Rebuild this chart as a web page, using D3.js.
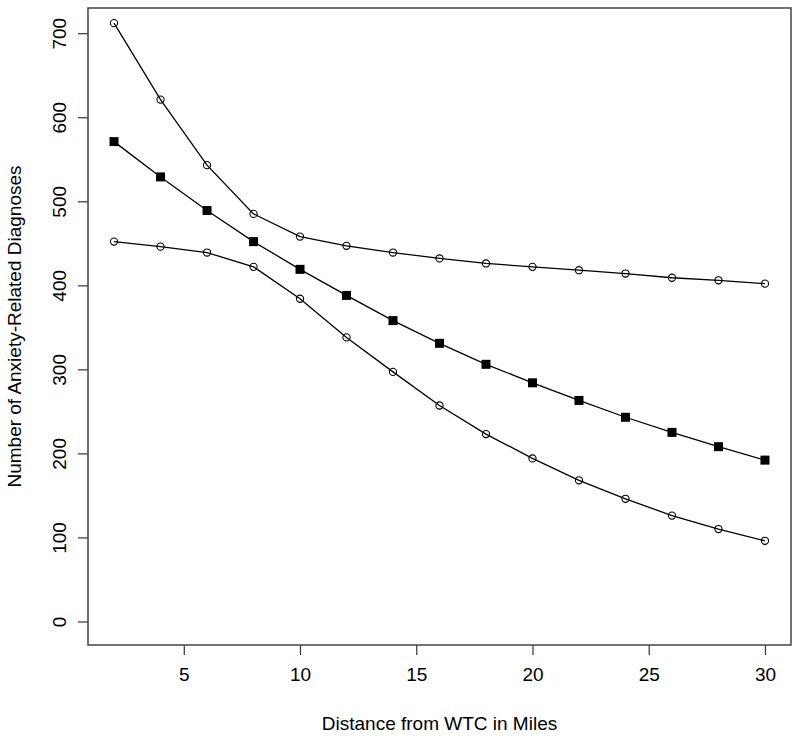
<!DOCTYPE html>
<html>
<head>
<meta charset="utf-8">
<script src="https://d3js.org/d3.v7.min.js"></script>
<title>Anxiety-related diagnoses by distance</title>
<style>
  body { margin: 0; background: #fff; }
  svg { display: block; font-family: "Liberation Sans", Arial, sans-serif; }
  .tick text { font-size: 19px; fill: #000; }
</style>
</head>
<body>
<div id="chart"></div>
<script>
// distance from WTC (miles)
var distance = [2, 4, 6, 8, 10, 12, 14, 16, 18, 20, 22, 24, 26, 28, 30];
// upper curve (open circles)
var upper = [712, 621, 543, 485, 458, 447, 439, 432, 426, 422, 418, 414, 409, 406, 402];
// middle curve (filled squares)
var middle = [571, 529, 489, 452, 419, 388, 358, 331, 306, 284, 263, 243, 225, 208, 192];
// lower curve (open circles)
var lower = [452, 446, 439, 422, 384, 338, 297, 257, 223, 194, 168, 146, 126, 110, 96];
var xTicks = [5, 10, 15, 20, 25, 30];
var yTicks = [0, 100, 200, 300, 400, 500, 600, 700];

var W = 800, H = 740;
var pLeft = 88, pRight = 791, pTop = 8, pBottom = 645;

var svg = d3.select("#chart").append("svg")
    .attr("width", W)
    .attr("height", H);

// R style: 4% padding on each side
var x = d3.scaleLinear().domain([0.88, 31.12]).range([pLeft, pRight]);
var y = d3.scaleLinear().domain([-28, 730]).range([pBottom, pTop]);

// x axis
var xaxis = d3.axisBottom(x).tickValues(xTicks).tickSize(10).tickSizeOuter(0).tickPadding(6);
var gx = svg.append("g")
    .attr("transform", "translate(0," + pBottom + ")")
    .call(xaxis);
gx.select(".domain").remove();
gx.selectAll("line").attr("stroke", "#333").attr("stroke-width", 1.2);
gx.selectAll("text").attr("dy", "1.05em");

// y axis, labels rotated like base R
var yaxis = d3.axisLeft(y).tickValues(yTicks).tickSize(10).tickSizeOuter(0);
var gy = svg.append("g")
    .attr("transform", "translate(" + pLeft + ",0)")
    .call(yaxis);
gy.select(".domain").remove();
gy.selectAll("line").attr("stroke", "#333").attr("stroke-width", 1.2);
gy.selectAll("text")
    .attr("transform", "rotate(-90)")
    .attr("x", 0)
    .attr("y", -22)
    .attr("dy", 0)
    .attr("text-anchor", "middle");

// box
svg.append("rect")
    .attr("x", pLeft).attr("y", pTop)
    .attr("width", pRight - pLeft).attr("height", pBottom - pTop)
    .attr("fill", "none")
    .attr("stroke", "#444")
    .attr("stroke-width", 1.5);

// axis titles
svg.append("text")
    .attr("x", (pLeft + pRight) / 2)
    .attr("y", 730)
    .attr("text-anchor", "middle")
    .style("font-size", "19px")
    .text("Distance from WTC in Miles");

svg.append("text")
    .attr("transform", "translate(21," + ((pTop + pBottom) / 2) + ") rotate(-90)")
    .attr("text-anchor", "middle")
    .style("font-size", "19px")
    .text("Number of Anxiety-Related Diagnoses");

var line = d3.line()
    .x(function(d, i) { return x(distance[i]); })
    .y(function(d) { return y(d); });

[upper, middle, lower].forEach(function(series) {
  svg.append("path")
      .datum(series)
      .attr("d", line)
      .attr("fill", "none")
      .attr("stroke", "#000")
      .attr("stroke-width", 1.3);
});

// open circle markers
[upper, lower].forEach(function(series) {
  svg.append("g").selectAll("circle")
      .data(series)
      .enter()
      .append("circle")
      .attr("cx", function(d, i) { return x(distance[i]); })
      .attr("cy", function(d) { return y(d); })
      .attr("r", 3.6)
      .attr("fill", "none")
      .attr("stroke", "#000")
      .attr("stroke-width", 1.1);
});

// filled squares
var sq = 9;
svg.append("g").selectAll("rect")
    .data(middle)
    .enter()
    .append("rect")
    .attr("x", function(d, i) { return x(distance[i]) - sq / 2; })
    .attr("y", function(d) { return y(d) - sq / 2; })
    .attr("width", sq)
    .attr("height", sq)
    .attr("fill", "#000");
</script>
</body>
</html>
